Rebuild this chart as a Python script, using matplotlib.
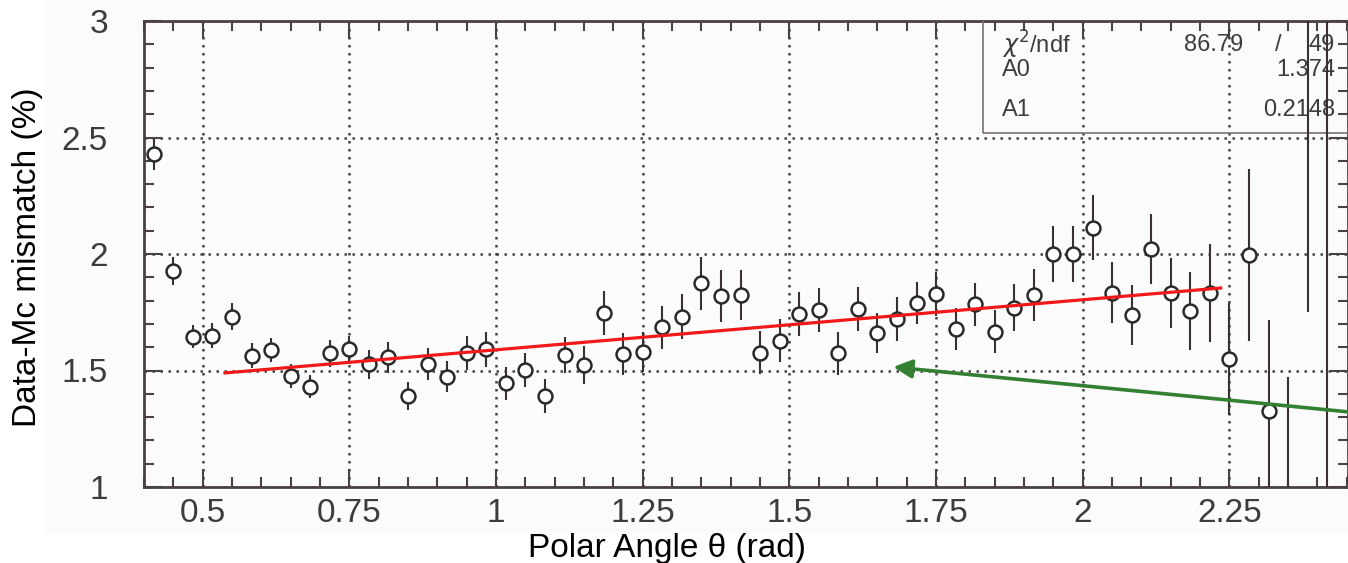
import matplotlib
matplotlib.use("Agg")
import matplotlib.pyplot as plt
from matplotlib.patches import Rectangle
from matplotlib.ticker import MultipleLocator, FuncFormatter
import numpy as np

plt.rcParams['font.family'] = ['Liberation Sans', 'DejaVu Sans']

# bin centres of polar angle (rad)
theta = [0.4167, 0.45, 0.4833, 0.5167, 0.55, 0.5833, 0.6167, 0.65, 0.6833, 0.7167,
         0.75, 0.7833, 0.8167, 0.85, 0.8833, 0.9167, 0.95, 0.9833, 1.0167, 1.05,
         1.0833, 1.1167, 1.15, 1.1833, 1.2167, 1.25, 1.2833, 1.3167, 1.35, 1.3833,
         1.4167, 1.45, 1.4833, 1.5167, 1.55, 1.5833, 1.6167, 1.65, 1.6833, 1.7167,
         1.75, 1.7833, 1.8167, 1.85, 1.8833, 1.9167, 1.95, 1.9833, 2.0167, 2.05,
         2.0833, 2.1167, 2.15, 2.1833, 2.2167, 2.25, 2.2833, 2.3167, 2.35, 2.3833,
         2.4167]

# data - mc mismatch (%)
mismatch = [2.428, 1.928, 1.645, 1.649, 1.731, 1.563, 1.588, 1.476, 1.430, 1.574,
            1.591, 1.527, 1.557, 1.391, 1.528, 1.473, 1.574, 1.591, 1.445, 1.502,
            1.391, 1.567, 1.524, 1.748, 1.571, 1.581, 1.685, 1.731, 1.874, 1.820,
            1.824, 1.576, 1.628, 1.742, 1.760, 1.574, 1.763, 1.660, 1.721, 1.788,
            1.828, 1.678, 1.785, 1.667, 1.770, 1.824, 1.999, 2.000, 2.113, 1.834,
            1.738, 2.020, 1.831, 1.755, 1.831, 1.548, 1.996, 1.327, 0.95, 3.30,
            3.60]

mismatch_err = [0.067, 0.06, 0.05, 0.053, 0.057, 0.053, 0.053, 0.053, 0.05, 0.057,
                0.057, 0.062, 0.067, 0.06, 0.069, 0.067, 0.072, 0.074, 0.072, 0.073,
                0.072, 0.077, 0.082, 0.094, 0.089, 0.086, 0.092, 0.097, 0.114, 0.11,
                0.109, 0.093, 0.093, 0.094, 0.093, 0.092, 0.095, 0.087, 0.093, 0.09,
                0.096, 0.089, 0.092, 0.093, 0.1, 0.11, 0.12, 0.12, 0.14, 0.13,
                0.127, 0.15, 0.15, 0.168, 0.21, 0.24, 0.37, 0.39, 0.52, 1.55,
                2.7]

# fit result (pol1)
A0 = 1.374
A1 = 0.2148
chi2 = "86.79"
ndf = "49"
fit_range = (0.538, 2.235)

# arrow (tip, tail)
arrow_tip = (1.677, 1.515)
arrow_tail = (2.47, 1.318)

fig = plt.figure(figsize=(13.48, 5.63), dpi=100)
# canvas background of the pasted ROOT picture
fig.patches.append(Rectangle((45 / 1348, 30 / 563), 1 - 45 / 1348, 1 - 30 / 563,
                             transform=fig.transFigure, color='#fbfbfb', zorder=-10))
ax = fig.add_axes([144 / 1348, 76 / 563, 1204 / 1348, 466 / 563])
ax.set_facecolor('none')

ax.set_xlim(0.4, 2.452)
ax.set_ylim(1, 3)

ax.errorbar(theta, mismatch, yerr=mismatch_err, fmt='o', ms=10, mfc='white',
            mec='#2a2a2a', mew=1.8, ecolor='#3a3030', elinewidth=1.5, capsize=0,
            zorder=4)

xf = np.linspace(fit_range[0], fit_range[1], 50)
ax.plot(xf, A0 + A1 * xf, color='#f01818', lw=2.3, zorder=5)

# grid / ticks ROOT-like
ax.xaxis.set_major_locator(MultipleLocator(0.25))
ax.xaxis.set_minor_locator(MultipleLocator(0.05))
ax.yaxis.set_major_locator(MultipleLocator(0.5))
ax.yaxis.set_minor_locator(MultipleLocator(0.1))
fmt = FuncFormatter(lambda v, p: "%g" % v)
ax.xaxis.set_major_formatter(fmt)
ax.yaxis.set_major_formatter(fmt)
ax.grid(True, which='major', color='#444444', lw=1.8, linestyle=(0, (1, 2.2)))
ax.tick_params(which='both', direction='in', top=True, right=True,
               colors='#4a4242', labelcolor='#3c3c3c', labelsize=24)
ax.tick_params(which='major', length=13, width=1.5)
ax.tick_params(which='minor', length=7, width=1.5)
ax.tick_params(axis='x', pad=8)
ax.tick_params(axis='y', pad=26)
for s in ax.spines.values():
    s.set_color('#4a4242')
    s.set_linewidth(2)

# stats box
ax.add_patch(Rectangle((1.83, 2.52), 0.7, 0.5, fill=False, ec='#7a7070', lw=1.2,
                       zorder=3))
tcol = '#3c3c3c'
ax.text(1.862, 2.897, r'$\chi^{2}$/ndf', fontsize=17, color=tcol, va='center')
ax.text(2.273, 2.897, chi2, fontsize=17, color=tcol, va='center', ha='right')
ax.text(2.333, 2.897, '/', fontsize=17, color=tcol, va='center', ha='center')
ax.text(2.430, 2.897, ndf, fontsize=17, color=tcol, va='center', ha='right')
ax.text(1.862, 2.790, 'A0', fontsize=17, color=tcol, va='center')
ax.text(2.430, 2.790, '%.3f' % A0, fontsize=17, color=tcol, va='center', ha='right')
ax.text(1.862, 2.618, 'A1', fontsize=17, color=tcol, va='center')
ax.text(2.430, 2.618, '%.4f' % A1, fontsize=17, color=tcol, va='center', ha='right')

ax.annotate('', xy=arrow_tip, xytext=arrow_tail,
            arrowprops=dict(arrowstyle='-|>', color='#338033', lw=2.6,
                            mutation_scale=28, shrinkA=0, shrinkB=0),
            annotation_clip=False, zorder=6)

fig.text(28 / 1348, 1 - 257 / 563, 'Data-Mc mismatch (%)', rotation=90,
         fontsize=24, ha='center', va='center')
fig.text(667 / 1348, 1 - 548 / 563, 'Polar Angle θ (rad)', fontsize=24,
         ha='center', va='center')

fig.savefig('out.png', dpi=100)
